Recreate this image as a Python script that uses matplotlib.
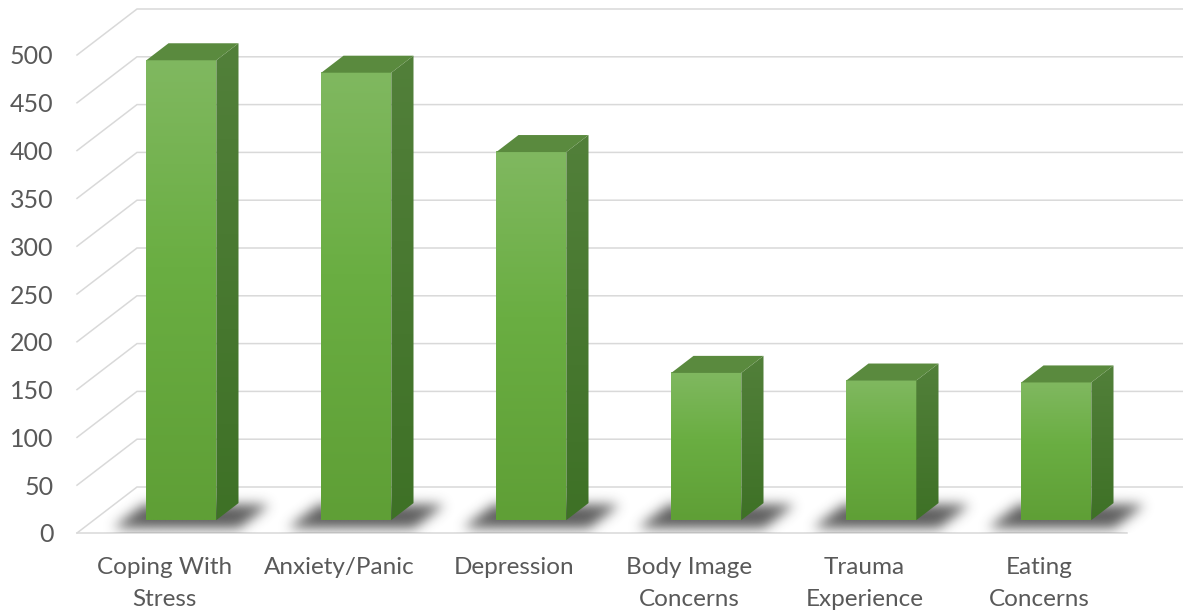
import numpy as np
import matplotlib.pyplot as plt
from matplotlib.patches import Polygon
from matplotlib.colors import LinearSegmentedColormap

plt.rcParams['font.family'] = ['Lato', 'DejaVu Sans']

categories = ["Coping With\nStress", "Anxiety/Panic", "Depression",
              "Body Image\nConcerns", "Trauma\nExperience", "Eating\nConcerns"]
counts = [481, 468, 385, 154, 146, 144]
y_ticks = list(range(0, 501, 50))

# figure / plot-area layout in pixels
W, H = 1183, 613
LEFT, FLOOR = 77, 533          # front-left corner of the floor
CAT_PX = 175.0                 # pixels per category
VAL_PX = 0.956                 # pixels per unit of value
DEPTH_PX = (60, 46)            # offset of the back wall (x right, y up)

# oblique depth vector in data units
DX = DEPTH_PX[0] / CAT_PX
DY = DEPTH_PX[1] / VAL_PX

BAR_W = 0.4
D0, D1 = 0.28, 0.65            # front and back depth of each bar

GRID = '#d9d9d9'
TEXT = '#595959'
front_cmap = LinearSegmentedColormap.from_list(
    'front', [(0, '#80b860'), (0.45, '#6aae42'), (1, '#5f9f36')])
side_cmap = LinearSegmentedColormap.from_list(
    'side', [(0, '#52803a'), (1, '#3e7126')])
TOP = '#5a8a3e'


def proj(x, v, d):
    return x + d * DX, v + d * DY


fig = plt.figure(figsize=(W / 100, H / 100), dpi=100)
ax = fig.add_axes([LEFT / W, (H - FLOOR) / H, 1 - LEFT / W, FLOOR / H])
xmin, xmax = -0.5, -0.5 + (W - LEFT) / CAT_PX
ymin, ymax = 0, FLOOR / VAL_PX

# walls: diagonal side-wall lines plus horizontal back-wall lines
n = len(categories)
for v in y_ticks:
    p0 = proj(-0.5, v, 0)
    p1 = proj(-0.5, v, 1)
    p2 = proj(xmax + 1, v, 1)
    ax.plot([p0[0], p1[0], p2[0]], [p0[1], p1[1], p2[1]], color=GRID,
            lw=1.1, zorder=1, clip_on=False, solid_joinstyle='miter')
f0, f1 = proj(-0.5, 0, 0), proj(n - 0.5, 0, 0)
ax.plot([f0[0], f1[0]], [f0[1], f1[1]], color=GRID, lw=1.1, zorder=1,
        clip_on=False)


def gauss_blur(img, sigma):
    r = int(3 * sigma)
    k = np.exp(-0.5 * (np.arange(-r, r + 1) / sigma) ** 2)
    k /= k.sum()
    img = np.apply_along_axis(lambda a: np.convolve(a, k, mode='same'), 0, img)
    img = np.apply_along_axis(lambda a: np.convolve(a, k, mode='same'), 1, img)
    return img


grad = np.linspace(0, 1, 256).reshape(-1, 1)

for i, val in enumerate(counts):
    ul = i - BAR_W / 2                 # bar left edge before depth shift
    xl, base = proj(ul, 0, D0)
    xr = xl + BAR_W
    ddx, ddy = (D1 - D0) * DX, (D1 - D0) * DY

    # soft floor shadow, thrown toward the front-left
    sx0, sx1 = xl - 0.35, xr + 0.5
    sy0, sy1 = -14, 58
    nx = int((sx1 - sx0) * CAT_PX)
    ny = int((sy1 - sy0) * VAL_PX)
    gx, gy = np.meshgrid(np.linspace(sx0, sx1, nx), np.linspace(sy1, sy0, ny))
    gd = gy / DY
    gu = gx - gd * DX
    mask = ((gu > ul - 0.13) & (gu < ul + BAR_W + 0.19) &
            (gd > D0 - 0.19) & (gd < D1 - 0.04)).astype(float)
    alpha = np.clip(gauss_blur(mask, 6) * 0.8, 0, 1)
    rgba = np.zeros((ny, nx, 4))
    rgba[..., :3] = 0.2
    rgba[..., 3] = alpha
    ax.imshow(rgba, extent=(sx0, sx1, sy0, sy1), aspect='auto',
              zorder=2, interpolation='bilinear')

    # front face
    ax.imshow(grad, cmap=front_cmap, extent=(xl, xr, base, base + val),
              aspect='auto', zorder=3, interpolation='bilinear')

    # side face
    side = Polygon([(xr, base), (xr + ddx, base + ddy),
                    (xr + ddx, base + ddy + val), (xr, base + val)],
                   closed=True, facecolor='none', edgecolor='none')
    ax.add_patch(side)
    im = ax.imshow(grad, cmap=side_cmap,
                   extent=(xr, xr + ddx, base, base + ddy + val),
                   aspect='auto', zorder=3, interpolation='bilinear')
    im.set_clip_path(side)

    # top face
    ax.add_patch(Polygon([(xl, base + val), (xr, base + val),
                          (xr + ddx, base + val + ddy),
                          (xl + ddx, base + val + ddy)],
                         closed=True, facecolor=TOP, edgecolor='none',
                         zorder=3))

ax.set_xlim(xmin, xmax)
ax.set_ylim(ymin, ymax)
ax.set_xticks(range(n))
ax.set_xticklabels(categories, linespacing=1.65)
ax.set_yticks(y_ticks)
ax.tick_params(axis='x', length=0, pad=17, labelsize=17.5, labelcolor=TEXT)
ax.tick_params(axis='y', length=0, pad=17, labelsize=18, labelcolor=TEXT)
for s in ax.spines.values():
    s.set_visible(False)
ax.set_facecolor('none')

fig.savefig('out.png', dpi=100)
